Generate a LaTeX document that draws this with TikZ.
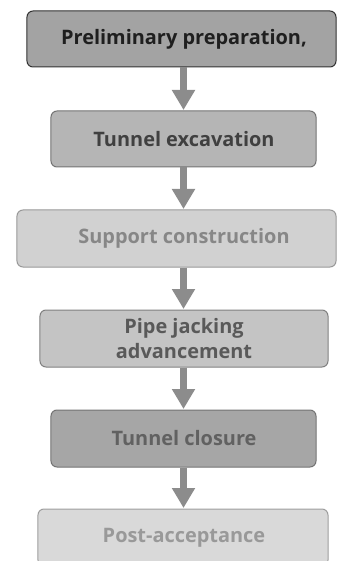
\documentclass[tikz,border=0pt]{standalone}
\usepackage{fontspec}
\setmainfont{Open Sans}
\usetikzlibrary{arrows.meta}
\definecolor{arr}{HTML}{8C8C8C}
\tikzset{
  box/.style={draw, rounded corners=6bp, line width=1bp, inner sep=0pt},
  lbl/.style={font=\fontsize{20}{25}\selectfont\bfseries, align=center, inner sep=0pt},
  flow/.style={draw=arr, line width=7bp, -{Triangle[width=22bp,length=20bp]}, shorten >=0.5bp}
}
\begin{document}
\begin{tikzpicture}[x=1bp,y=1bp]
\useasboundingbox (0,0) rectangle (337,-561);
\begin{scope}
\clip (0,0) rectangle (337,-561);
\node[box, draw=black!80, fill=black!36, minimum width=309bp, minimum height=56bp] (b1) at (181.5,-39) {};
\node[box, draw=black!55, fill=black!29, minimum width=265bp, minimum height=56bp] (b2) at (183.5,-139) {};
\node[box, draw=black!40, fill=black!18, minimum width=319bp, minimum height=57bp] (b3) at (176.5,-238.5) {};
\node[box, draw=black!50, fill=black!23, minimum width=288bp, minimum height=57bp] (b4) at (184,-338.5) {};
\node[box, draw=black!55, fill=black!35, minimum width=265bp, minimum height=57bp] (b5) at (183.5,-438.5) {};
\node[box, draw=black!38, fill=black!15, minimum width=290bp, minimum height=57bp] (b6) at (183,-537.5) {};
\end{scope}
\node[lbl, text=black!88] (t1) at (184,-39) {Preliminary preparation,};
\node[lbl, text=black!75] (t2) at (184,-139) {Tunnel excavation};
\node[lbl, text=black!47] (t3) at (184,-238.5) {Support construction};
\node[lbl, text=black!65] (t4) at (184,-338.5) {Pipe jacking\\advancement};
\node[lbl, text=black!62] (t5) at (184,-438.5) {Tunnel closure};
\node[lbl, text=black!40] (t6) at (184,-537.5) {Post-acceptance};
\draw[flow] (b1.south -| 183.5,0) -- (b2.north -| 183.5,0);
\draw[flow] (b2.south -| 183.5,0) -- (b3.north -| 183.5,0);
\draw[flow] (b3.south -| 183.5,0) -- (b4.north -| 183.5,0);
\draw[flow] (b4.south -| 183.5,0) -- (b5.north -| 183.5,0);
\draw[flow] (b5.south -| 183.5,0) -- (b6.north -| 183.5,0);
\end{tikzpicture}
\end{document}
